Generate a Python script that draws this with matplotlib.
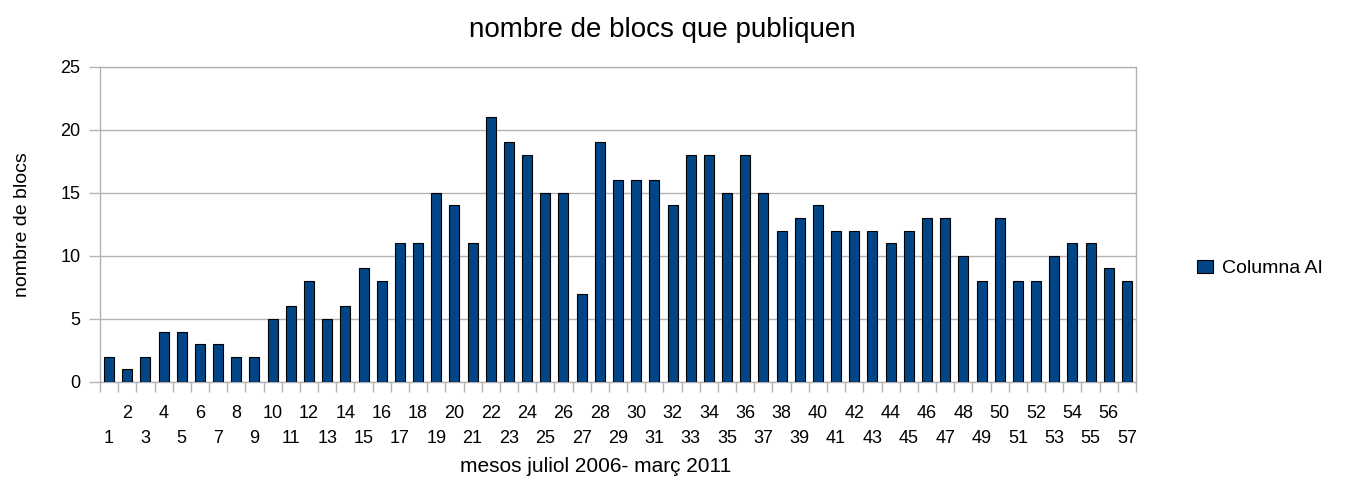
import matplotlib
matplotlib.use("Agg")
import matplotlib.pyplot as plt
import numpy as np

months = list(range(1, 58))
values = [2, 1, 2, 4, 4, 3, 3, 2, 2, 5, 6, 8, 5, 6, 9, 8, 11, 11, 15, 14, 11,
          21, 19, 18, 15, 15, 7, 19, 16, 16, 16, 14, 18, 18, 15, 18, 15, 12, 13,
          14, 12, 12, 12, 11, 12, 13, 13, 10, 8, 13, 8, 8, 10, 11, 11, 9, 8]
series_name = "Columna AI"
title = "nombre de blocs que publiquen"
xlabel = "mesos juliol 2006- març 2011"
ylabel = "nombre de blocs"

plt.rcParams['font.family'] = ['Liberation Sans', 'DejaVu Sans']

W, H = 1348, 484
fig = plt.figure(figsize=(W / 100, H / 100), dpi=100)
ax = fig.add_axes([100 / W, 1 - 382 / H, (1136 - 100) / W, (382 - 66.5) / H])

ax.bar(months, values, width=0.55, color='#004586', edgecolor='black',
       linewidth=0.8, label=series_name, zorder=3)

ax.set_xlim(0.5, 57.5)
ax.set_ylim(0, 25)
ax.set_yticks([0, 5, 10, 15, 20, 25])
ax.yaxis.grid(True, color='#b3b3b3', linewidth=1, zorder=0)
for s in ax.spines.values():
    s.set_color('#b3b3b3')
    s.set_linewidth(1)

ax.set_xticks(months)
ax.set_xticklabels([("\n" + str(m)) if m % 2 == 1 else str(m) for m in months])
ax.tick_params(axis='x', which='major', length=0, pad=16.5, labelsize=13)
for t in ax.get_xticklabels():
    t.set_linespacing(1.65)
ax.set_xticks(np.arange(0.5, 58, 1), minor=True)
ax.tick_params(axis='x', which='minor', length=7, color='#b3b3b3', width=1)
ax.tick_params(axis='y', length=8, color='#b3b3b3', width=1, pad=6, labelsize=13)

ax.set_title(title, fontsize=20, x=(662 - 100) / 1036, pad=21)
ax.set_xlabel(xlabel, fontsize=15)
ax.xaxis.set_label_coords((596 - 100) / 1036, (382 - 457) / (382 - 66.5))
ax.set_ylabel(ylabel, fontsize=14, labelpad=21)

leg = ax.legend(loc='center left', bbox_to_anchor=(1197 / W, 1 - 268.5 / H),
                bbox_transform=fig.transFigure, frameon=False,
                fontsize=14, handlelength=0.8, handleheight=0.7,
                handletextpad=0.46, borderpad=0, borderaxespad=0)

fig.savefig("out.png", dpi=100)
